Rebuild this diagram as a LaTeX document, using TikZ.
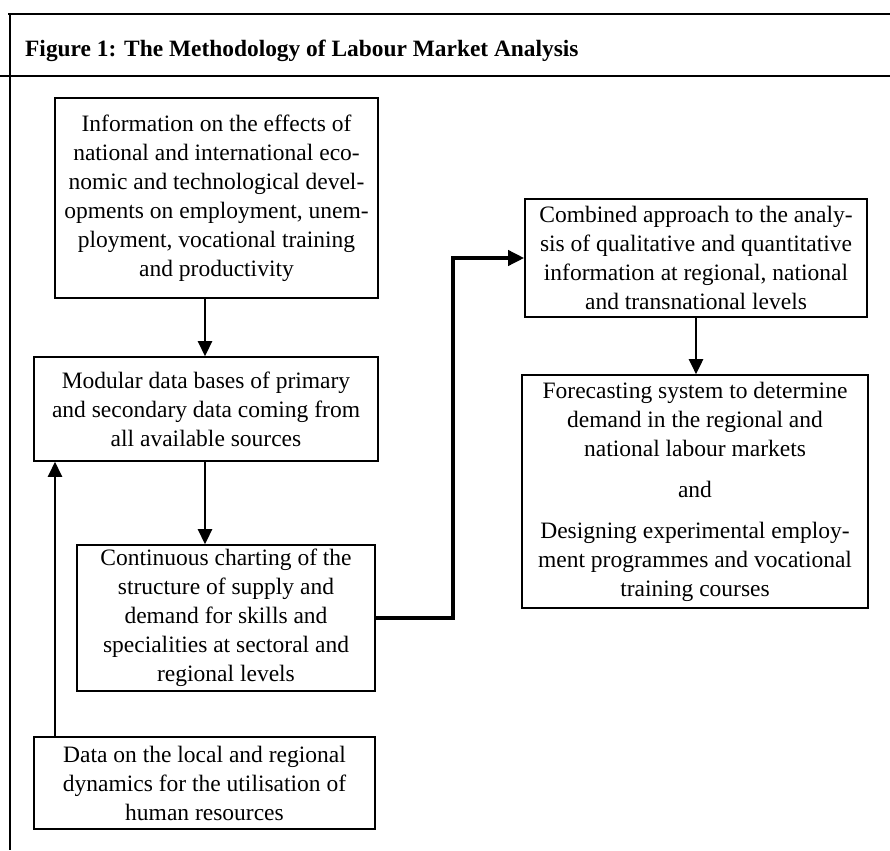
\documentclass[tikz,border=0pt]{standalone}
\usepackage{fontspec}
\setmainfont{Liberation Serif}
\usetikzlibrary{arrows.meta,calc}

\tikzset{
  stage/.style={draw, line width=1.6pt, align=center, inner sep=0pt,
    font=\fontsize{23.5}{29}\selectfont},
  flow/.style={line width=2.6pt, -{Triangle[length=15pt,width=14pt]}},
  heavyflow/.style={line width=3.6pt, -{Triangle[length=16pt,width=15pt]}},
  rule/.style={line width=1.8pt},
}

\begin{document}
\begin{tikzpicture}[x=1pt,y=-1pt]
  \useasboundingbox (0,0) rectangle (890,850);

  % frame and title band
  \draw[rule] (8,14) -- (890,14);
  \draw[rule] (0,76) -- (890,76);
  \draw[line width=1.4pt] (10,14) -- (10,850);
  \node[anchor=base west, font=\fontsize{23.4}{28}\selectfont\bfseries, inner sep=0pt]
    (title) at (25,57) {Figure 1: The Methodology of Labour Market Analysis};

  % stages
  \node[stage, minimum width=323pt, minimum height=200pt] (info) at (216.5,198)
    {Information on the effects of\\ national and international eco-\\
     nomic and technological devel-\\ opments on employment, unem-\\
     ployment, vocational training\\ and productivity};
  \node[stage, minimum width=344pt, minimum height=104pt] (modular) at (206,409)
    {Modular data bases of primary\\ and secondary data coming from\\ all available sources};
  \node[stage, minimum width=298pt, minimum height=146pt] (chart) at (226,618)
    {Continuous charting of the\\ structure of supply and\\ demand for skills and\\
     specialities at sectoral and\\ regional levels};
  \node[stage, minimum width=341pt, minimum height=92pt] (local) at (204.5,783)
    {Data on the local and regional\\ dynamics for the utilisation of\\ human resources};
  \node[stage, minimum width=342pt, minimum height=118pt] (combined) at (696,258)
    {Combined approach to the analy-\\ sis of qualitative and quantitative\\
     information at regional, national\\ and transnational levels};
  \node[stage, minimum width=346pt, minimum height=233pt] (forecast) at (695,491.5)
    {Forecasting system to determine\\ demand in the regional and\\ national labour markets\\[12pt]
     and\\[12pt]
     Designing experimental employ-\\ ment programmes and vocational\\ training courses};

  % routing columns
  \coordinate (colmid) at (205,0);
  \coordinate (colleft) at (55,0);
  \coordinate (colturn) at (453,0);

  % connectors
  \draw[flow] (info.south -| colmid) -- (modular.north -| colmid);
  \draw[flow] (modular.south -| colmid) -- (chart.north -| colmid);
  \draw[flow] (local.north -| colleft) -- (modular.south -| colleft);
  \draw[heavyflow] (chart.east) -- (chart.east -| colturn) |- (combined.west);
  \draw[flow] (combined.south) -- (combined.south |- forecast.north);
\end{tikzpicture}
\end{document}
